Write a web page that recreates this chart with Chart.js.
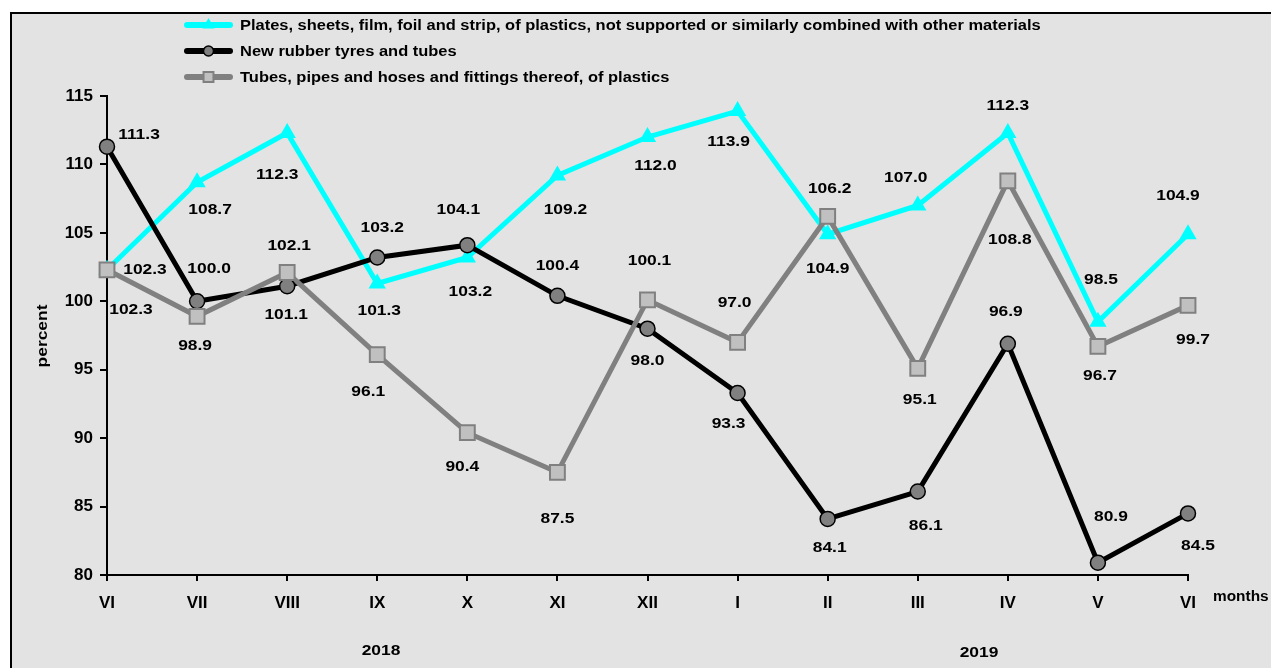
<!DOCTYPE html>
<html>
<head>
<meta charset="utf-8">
<title>Industrial producer price indices</title>
<script src="https://cdn.jsdelivr.net/npm/chart.js@4.4.1/dist/chart.umd.min.js"></script>
<style>
  html, body { margin: 0; padding: 0; background: #fff; }
  canvas { display: block; }
</style>
</head>
<body>
<canvas id="chart" width="1271" height="668"></canvas>
<script>
// DATA //

const months = ['VI', 'VII', 'VIII', 'IX', 'X', 'XI', 'XII', 'I', 'II', 'III', 'IV', 'V', 'VI'];
const platesValues = [102.3, 108.7, 112.3, 101.3, 103.2, 109.2, 112.0, 113.9, 104.9, 107.0, 112.3, 98.5, 104.9];
const rubberValues = [111.3, 100.0, 101.1, 103.2, 104.1, 100.4, 98.0, 93.3, 84.1, 86.1, 96.9, 80.9, 84.5];
const tubesValues = [102.3, 98.9, 102.1, 96.1, 90.4, 87.5, 100.1, 97.0, 106.2, 95.1, 108.8, 96.7, 99.7];
const yMin = 80;
const yMax = 115;
const yStep = 5;

const seriesNames = [
    'Plates, sheets, film, foil and strip, of plastics, not supported or similarly combined with other materials',
    'New rubber tyres and tubes',
    'Tubes, pipes and hoses and fittings thereof, of plastics'
];
const yearLabels = ['2018', '2019'];

// label offsets from each point (px)
const platesLabelOffsets = [[38,0],[13,28],[-10,42],[2,27],[3,34],[8,34],[8,29],[-9,31],[0,35],[-12,-28],[0,-27],[3,-42],[-10,-38]];
const rubberLabelOffsets = [[32,-12],[12,-32],[-1,29],[5,-30],[-9,-35],[0,-30],[0,32],[-9,31],[2,29],[8,34],[-2,-32],[13,-46],[10,32]];
const tubesLabelOffsets = [[24,40],[-2,30],[2,-27],[-9,37],[-5,34],[0,47],[2,-39],[-3,-39],[2,-28],[2,32],[2,59],[2,29],[5,34]];

// STYLES //

const FONT = '"Liberation Sans", Arial, sans-serif';
const STRETCH = 1.16; // the original picture is a bit wider than tall
const seriesStyles = [
    { line: '#00ffff', style: 'triangle', fill: '#00ffff', border: '#00ffff', radius: 10, borderWidth: 0 },
    { line: '#000000', style: 'circle', fill: '#808080', border: '#000000', radius: 7.5, borderWidth: 1.5 },
    { line: '#808080', style: 'rect', fill: '#c0c0c0', border: '#808080', radius: 10.5, borderWidth: 2 }
];
const seriesValues = [platesValues, rubberValues, tubesValues];
const seriesOffsets = [platesLabelOffsets, rubberLabelOffsets, tubesLabelOffsets];

function drawMarker(ctx, style, x, y, r) {
    ctx.save();
    ctx.fillStyle = style.fill;
    ctx.strokeStyle = style.border;
    ctx.lineWidth = style.borderWidth;
    ctx.beginPath();
    if (style.style === 'circle') {
        ctx.arc(x, y, r, 0, Math.PI * 2);
    } else if (style.style === 'rect') {
        const s = r * Math.SQRT1_2;
        ctx.rect(x - s, y - s, s * 2, s * 2);
    } else {
        ctx.moveTo(x, y - r);
        ctx.lineTo(x + r * 0.866, y + r * 0.5);
        ctx.lineTo(x - r * 0.866, y + r * 0.5);
        ctx.closePath();
    }
    ctx.fill();
    if (style.borderWidth > 0) ctx.stroke();
    ctx.restore();
}

function wideText(ctx, text, x, y, sx) {
    ctx.save();
    ctx.translate(x, y);
    ctx.scale(sx, 1);
    ctx.fillText(text, 0, 0);
    ctx.restore();
}

// PLUGINS //

const backgroundPlugin = {
    id: 'background',
    beforeDraw(chart) {
        const ctx = chart.ctx;
        ctx.save();
        ctx.fillStyle = '#ffffff';
        ctx.fillRect(0, 0, chart.width, chart.height);
        ctx.fillStyle = '#e3e3e3';
        ctx.fillRect(11, 13, chart.width, chart.height);
        ctx.strokeStyle = '#000000';
        ctx.lineWidth = 2;
        ctx.strokeRect(11, 13, chart.width + 10, chart.height + 10);
        ctx.restore();
    }
};

const textPlugin = {
    id: 'texts',
    afterDatasetsDraw(chart) {
        const ctx = chart.ctx;
        ctx.save();
        ctx.fillStyle = '#000000';
        ctx.textAlign = 'center';
        ctx.textBaseline = 'middle';
        ctx.font = 'bold 15px ' + FONT;

        // value labels
        for (let s = 0; s < 3; s++) {
            const meta = chart.getDatasetMeta(s + 3);
            meta.data.forEach((pt, i) => {
                const off = seriesOffsets[s][i];
                wideText(ctx, seriesValues[s][i].toFixed(1), pt.x + off[0], pt.y + off[1], STRETCH);
            });
        }

        // legend
        const legendY = [25, 51, 77];
        for (let s = 0; s < 3; s++) {
            const st = seriesStyles[s];
            ctx.strokeStyle = st.line;
            ctx.lineWidth = 6;
            ctx.lineCap = 'round';
            ctx.beginPath();
            ctx.moveTo(187, legendY[s]);
            ctx.lineTo(230, legendY[s]);
            ctx.stroke();
            drawMarker(ctx, st, 208.5, legendY[s], s === 1 ? 5 : 7);
            ctx.fillStyle = '#000000';
            ctx.textAlign = 'left';
            ctx.font = 'bold 14px ' + FONT;
            wideText(ctx, seriesNames[s], 240, legendY[s] + 1, 1.175);
        }

        // axis titles
        ctx.font = 'bold 14px ' + FONT;
        ctx.textAlign = 'left';
        wideText(ctx, 'months', 1213, 597, 1.1);
        ctx.textAlign = 'center';
        ctx.font = 'bold 15px ' + FONT;
        wideText(ctx, yearLabels[0], 381, 651, STRETCH);
        wideText(ctx, yearLabels[1], 979, 653, STRETCH);

        ctx.save();
        ctx.translate(43, 336);
        ctx.rotate(-Math.PI / 2);
        ctx.font = 'bold 15px ' + FONT;
        wideText(ctx, 'percent', 0, 0, STRETCH);
        ctx.restore();

        ctx.restore();
    }
};

// CHART //

// lines lie under all markers; later series on top
const lineOrder = [6, 5, 4];
const markerOrder = [3, 2, 1];

const lineDatasets = seriesValues.map((vals, s) => ({
    label: seriesNames[s],
    data: vals,
    order: lineOrder[s],
    borderColor: seriesStyles[s].line,
    borderWidth: 5,
    pointRadius: 0,
    pointHoverRadius: 0,
    tension: 0,
    fill: false,
    clip: false
}));

const markerDatasets = seriesValues.map((vals, s) => ({
    label: seriesNames[s] + ' markers',
    data: vals,
    order: markerOrder[s],
    showLine: false,
    pointStyle: seriesStyles[s].style,
    pointRadius: seriesStyles[s].radius,
    pointHoverRadius: seriesStyles[s].radius,
    pointBackgroundColor: seriesStyles[s].fill,
    pointBorderColor: seriesStyles[s].border,
    pointBorderWidth: seriesStyles[s].borderWidth,
    clip: false
}));

const tickFont = { family: FONT, weight: 'bold', size: 17 };

const chart = new Chart(document.getElementById('chart'), {
    type: 'line',
    data: {
        labels: months,
        datasets: lineDatasets.concat(markerDatasets)
    },
    options: {
        responsive: false,
        animation: false,
        events: [],
        layout: {
            padding: { left: 0, right: 83, top: 96, bottom: 0 }
        },
        scales: {
            x: {
                offset: false,
                grid: {
                    display: true,
                    drawOnChartArea: false,
                    drawTicks: true,
                    tickLength: 6,
                    color: '#000000',
                    lineWidth: 2
                },
                border: { display: true, color: '#000000', width: 2 },
                ticks: {
                    color: '#000000',
                    font: tickFont,
                    padding: 12,
                    autoSkip: false,
                    maxRotation: 0
                },
                afterFit(scale) { scale.height = 93; }
            },
            y: {
                min: yMin,
                max: yMax,
                grid: {
                    display: true,
                    drawOnChartArea: false,
                    drawTicks: true,
                    tickLength: 7,
                    color: '#000000',
                    lineWidth: 2
                },
                border: { display: true, color: '#000000', width: 2 },
                ticks: {
                    stepSize: yStep,
                    color: '#000000',
                    font: tickFont,
                    padding: 7
                },
                afterFit(scale) { scale.width = 107; }
            }
        },
        plugins: {
            legend: { display: false },
            tooltip: { enabled: false }
        }
    },
    plugins: [backgroundPlugin, textPlugin]
});
</script>
</body>
</html>
